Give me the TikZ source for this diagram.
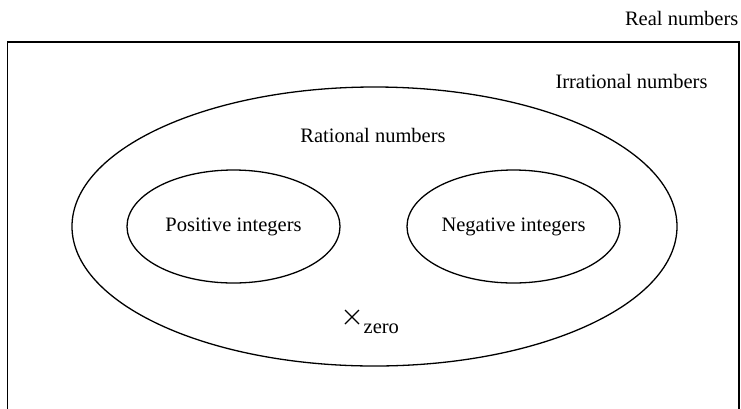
\documentclass[tikz,border=0pt]{standalone}
\usepackage{fontspec}
\setmainfont{Liberation Serif}
\usetikzlibrary{shapes.geometric, positioning, calc}

\begin{document}
\begin{tikzpicture}[
    x=1pt, y=-1pt,
    line width=1.3pt,
    set/.style={draw, ellipse, inner sep=0pt, line width=1.3pt},
    label/.style={font=\fontsize{20.5}{24}\selectfont, inner sep=0pt},
]
    \useasboundingbox (0,0) rectangle (741,408);
    \clip (0,0) rectangle (741,408);

    % real numbers box, open at the bottom of the page
    \draw (7.5,430) -- (7.5,42) -- (739,42) -- (739,430);
    \node[label, anchor=base east] (real) at (739,25) {Real numbers};
    \node[label, anchor=base] (irrational) at (631.5,88) {Irrational numbers};

    % rationals and the two integer sets
    \node[set, minimum width=605pt, minimum height=279pt] (rational) at (374.5,226.5) {};
    \node[label, anchor=base] (rationaltxt) at (373,142) {Rational numbers};
    \node[set, minimum width=213pt, minimum height=113pt] (positive) at (233.5,226.5) {};
    \node[label] at (positive.center) {Positive integers};
    \node[set, minimum width=213pt, minimum height=113pt] (negative) at (513.5,226.5) {};
    \node[label] at (negative.center) {Negative integers};

    % zero
    \coordinate (zero) at (352,317);
    \draw[line width=1.2pt] ($(zero)+(-7,-7)$) -- ($(zero)+(7,7)$)
        ($(zero)+(-7,7)$) -- ($(zero)+(7,-7)$);
    \node[label, anchor=base west] (zerotxt) at (363,333) {zero};
\end{tikzpicture}
\end{document}
